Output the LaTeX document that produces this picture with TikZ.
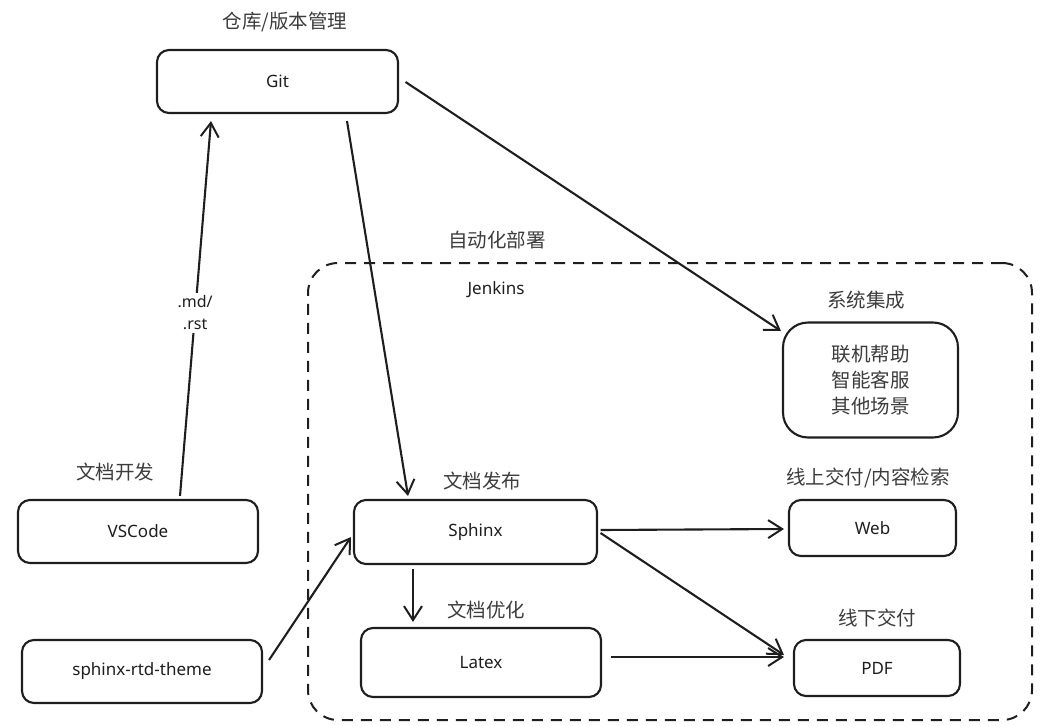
\documentclass[tikz,border=0pt]{standalone}
\usepackage{fontspec}
\setmainfont{Noto Sans}
\newfontfamily\cjk{Noto Sans CJK SC}
\usetikzlibrary{arrows.meta,calc}
\definecolor{ink}{HTML}{1E1E1E}
\definecolor{lblgray}{HTML}{3C3C3C}
\tikzset{
  box/.style={draw=ink, line width=2.1pt, rounded corners=12pt, fill=white, text=ink,
    font=\fontsize{17}{20}\selectfont, inner sep=0pt},
  lbl/.style={text=lblgray, font=\cjk\fontsize{19.5}{24}\selectfont, inner sep=1pt},
  conn/.style={draw=ink, line width=2.1pt, -{Straight Barb[length=14pt,width=18pt,line width=2pt]}},
}
\begin{document}
\begin{tikzpicture}[x=1pt,y=-1pt]
\useasboundingbox (0,0) rectangle (1051,725);
% container
\node[draw=ink, line width=2pt, dash pattern=on 11pt off 8pt, rounded corners=30pt,
  minimum width=724pt, minimum height=457pt, inner sep=0pt] (auto) at (670,491.5) {};
\node[lbl] (autolbl) at (497,240) {自动化部署};
\node[text=ink, font=\fontsize{17}{20}\selectfont] (jenkins) at (496,290) {Jenkins};
% boxes
\node[box, minimum width=241pt, minimum height=63pt] (git) at (277.5,81.5) {Git};
\node[lbl] (gitlbl) at (285,22) {仓库/版本管理};
\node[box, minimum width=240pt, minimum height=63pt] (vscode) at (138,531.5) {VSCode};
\node[lbl] (vscodelbl) at (115,472) {文档开发};
\node[box, minimum width=240pt, minimum height=63pt] (theme) at (142,671.5) {sphinx-rtd-theme};
\node[box, minimum width=243pt, minimum height=64pt] (sphinx) at (475.5,532) {Sphinx};
\node[lbl] (sphinxlbl) at (482,481) {文档发布};
\node[box, minimum width=240pt, minimum height=69pt] (latex) at (481,662.5) {Latex};
\node[lbl] (latexlbl) at (486,610) {文档优化};
\node[box, minimum width=167pt, minimum height=56pt] (web) at (872.5,528) {Web};
\node[lbl] (weblbl) at (868,478) {线上交付/内容检索};
\node[box, minimum width=166pt, minimum height=56pt] (pdf) at (877,668) {PDF};
\node[lbl] (pdflbl) at (877,618) {线下交付};
\node[box, rounded corners=25pt, minimum width=175pt, minimum height=115pt,
  font=\cjk\fontsize{19.5}{26}\selectfont, text=lblgray, align=center] (sys) at (870.5,380)
  {联机帮助\\智能客服\\其他场景};
\node[lbl] (syslbl) at (866,300) {系统集成};
% connectors
\draw[conn] ($(vscode.north)+(42,-3)$) -- node[pos=0.488, fill=white, text=ink, align=center,
  font=\fontsize{16}{22}\selectfont, inner sep=3pt] (ext) {.md/\\.rst} ($(git.south)+(-66.5,7)$);
\draw[conn] ($(git.south)+(69.5,7)$) -- ($(sphinx.north)+(-67.5,-3)$);
\draw[conn] ($(git.east)+(6.5,0.5)$) -- ($(sys.west)+(-1,-49)$);
\draw[conn] ($(theme.east)+(6,-11.5)$) -- ($(sphinx.west)+(-2,5)$);
\draw[conn] ($(sphinx.south)+(-62.5,4)$) -- ($(latex.north)+(-68,-5)$);
\draw[conn] ($(sphinx.east)+(2.5,-2)$) -- ($(web.west)+(-4,1)$);
\draw[conn] ($(sphinx.east)+(2.5,1)$) -- ($(pdf.west)+(-9,-13)$);
\draw[conn] ($(latex.east)+(9,-5.5)$) -- ($(pdf.west)+(-9,-11)$);
\end{tikzpicture}
\end{document}
